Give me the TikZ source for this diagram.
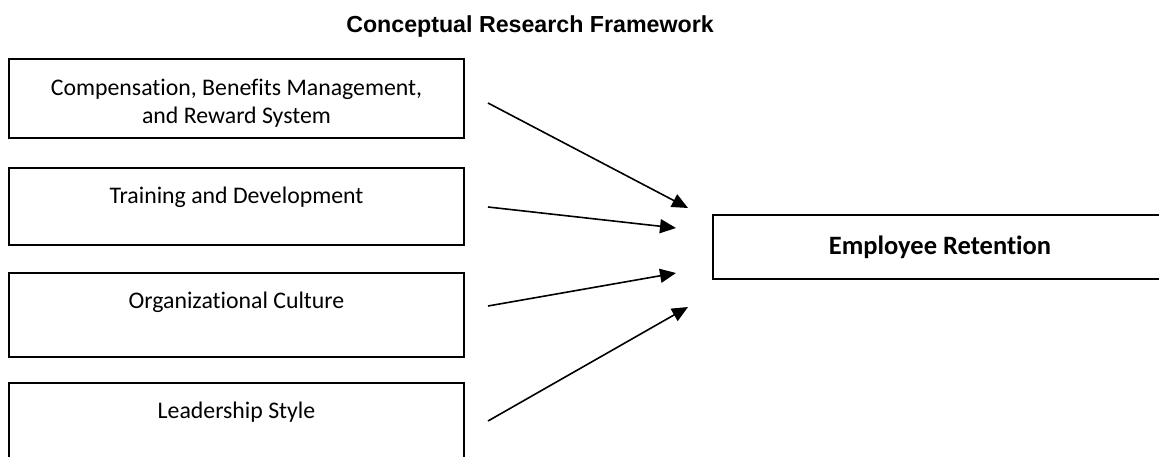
\documentclass[tikz,border=0pt]{standalone}
\usepackage{fontspec}
\setmainfont{Carlito}[Ligatures=NoCommon]
\newfontfamily\headfont{Liberation Sans}
\usetikzlibrary{arrows.meta}
\begin{document}
\begin{tikzpicture}[x=1pt,y=-1pt,
  factorbox/.style={draw=black,line width=2pt,minimum width=455pt,inner sep=0pt},
  factortext/.style={anchor=base,font=\fontsize{23.8}{28.3}\selectfont,align=center},
  link/.style={line width=1.6pt,-{Triangle[length=16pt,width=14pt]}}]
\useasboundingbox (0,0) rectangle (1159,457);
\clip (0,0) rectangle (1159,457);

% title
\node[font=\headfont\bfseries\fontsize{23.2}{27}\selectfont] (title) at (530,27) {Conceptual Research Framework};

% independent variables
\node[factorbox,minimum height=79pt] (comp) at (236.5,98.5) {};
\node[factorbox,minimum height=77pt] (train) at (236.5,206.5) {};
\node[factorbox,minimum height=84pt] (cult) at (236.5,315) {};
\node[factorbox,minimum height=84pt] (lead) at (236.5,425) {};

% captions; a multi-line caption sits on the baseline of its last line
\node[factortext] (compt) at ([yshift=-66pt]comp.north) {Compensation, Benefits Management,\\and Reward System};
\node[factortext] (traint) at ([yshift=-37pt]train.north) {Training and Development};
\node[factortext] (cultt) at ([yshift=-36pt]cult.north) {Organizational Culture};
\node[factortext] (leadt) at ([yshift=-36pt]lead.north) {Leadership Style};

% dependent variable
\node[factorbox,minimum height=64pt,font=\bfseries\fontsize{26.5}{30}\selectfont] (ret) at (940,247) {Employee Retention};

% arrow tails and tips
\coordinate (a1) at (488,103);  \coordinate (b1) at (688,208);
\coordinate (a2) at (488,207);  \coordinate (b2) at (676,228);
\coordinate (a3) at (488,306);  \coordinate (b3) at (676,273);
\coordinate (a4) at (488,421);  \coordinate (b4) at (688,307);

\draw[link] (a1) -- (b1);
\draw[link] (a2) -- (b2);
\draw[link] (a3) -- (b3);
\draw[link] (a4) -- (b4);
\end{tikzpicture}
\end{document}
